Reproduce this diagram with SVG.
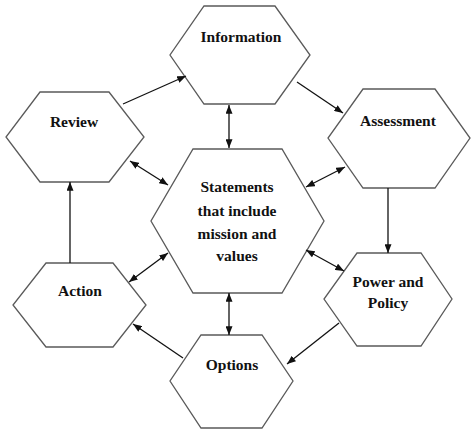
<svg xmlns="http://www.w3.org/2000/svg" width="474" height="435" viewBox="0 0 474 435">
<defs>
<marker id="arr" viewBox="0 0 10 8" markerWidth="9" markerHeight="7" refX="10" refY="4" orient="auto-start-reverse" markerUnits="userSpaceOnUse">
<path d="M0,0 L10,4 L0,8 z" fill="#111"/>
</marker>
<style>
.hex{fill:#fff;stroke:#5a5a5a;stroke-width:1.3}
.lbl{font-family:"Liberation Serif","Times New Roman",serif;font-weight:bold;font-size:15.5px;fill:#111;text-anchor:middle}
.c{stroke:#111;stroke-width:1.3;fill:none}
.e{marker-end:url(#arr)}
.b{marker-start:url(#arr);marker-end:url(#arr)}
</style>
</defs>
<rect width="474" height="435" fill="#fff"/>
<g id="information">
<polygon class="hex" points="204,6 275,6 310,55 275,104 204,104 170,55"/>
<text class="lbl" x="241" y="42">Information</text>
</g>
<g id="review">
<polygon class="hex" points="40,92 109,92 144,137 109,182 40,182 6,137"/>
<text class="lbl" x="74" y="127">Review</text>
</g>
<g id="assessment">
<polygon class="hex" points="363,89 435,89 470,138 435,188 363,188 328,138"/>
<text class="lbl" x="398" y="126">Assessment</text>
</g>
<g id="statements">
<polygon class="hex" points="193,149 282,149 324,221 282,293 193,293 151,221"/>
<text class="lbl" x="237" y="192">Statements</text>
<text class="lbl" x="237" y="216">that include</text>
<text class="lbl" x="237" y="239">mission and</text>
<text class="lbl" x="237" y="261">values</text>
</g>
<g id="action">
<polygon class="hex" points="46,263 113,263 146,305 113,347 46,347 13,305"/>
<text class="lbl" x="80" y="296">Action</text>
</g>
<g id="power-policy">
<polygon class="hex" points="357,253 421,253 452,299 421,346 357,346 324,299"/>
<text class="lbl" x="388" y="287">Power and</text>
<text class="lbl" x="388" y="308">Policy</text>
</g>
<g id="options">
<polygon class="hex" points="201,335 262,335 293,381 262,428 201,428 170,381"/>
<text class="lbl" x="232" y="370">Options</text>
</g>
<g id="connectors">
<line class="c e" x1="123" y1="104" x2="186" y2="76"/>
<line class="c e" x1="297" y1="82" x2="343" y2="113"/>
<line class="c b" x1="229" y1="105" x2="229" y2="148"/>
<line class="c b" x1="130" y1="161" x2="168" y2="185"/>
<line class="c b" x1="345" y1="167" x2="306" y2="187"/>
<line class="c e" x1="388" y1="188" x2="388" y2="253"/>
<line class="c e" x1="70" y1="263" x2="70" y2="182"/>
<line class="c b" x1="168" y1="253" x2="129" y2="282"/>
<line class="c b" x1="306" y1="250" x2="344" y2="271"/>
<line class="c b" x1="229" y1="293" x2="229" y2="335"/>
<line class="c e" x1="183" y1="358" x2="133" y2="324"/>
<line class="c e" x1="339" y1="323" x2="287" y2="364"/>
</g>
</svg>
